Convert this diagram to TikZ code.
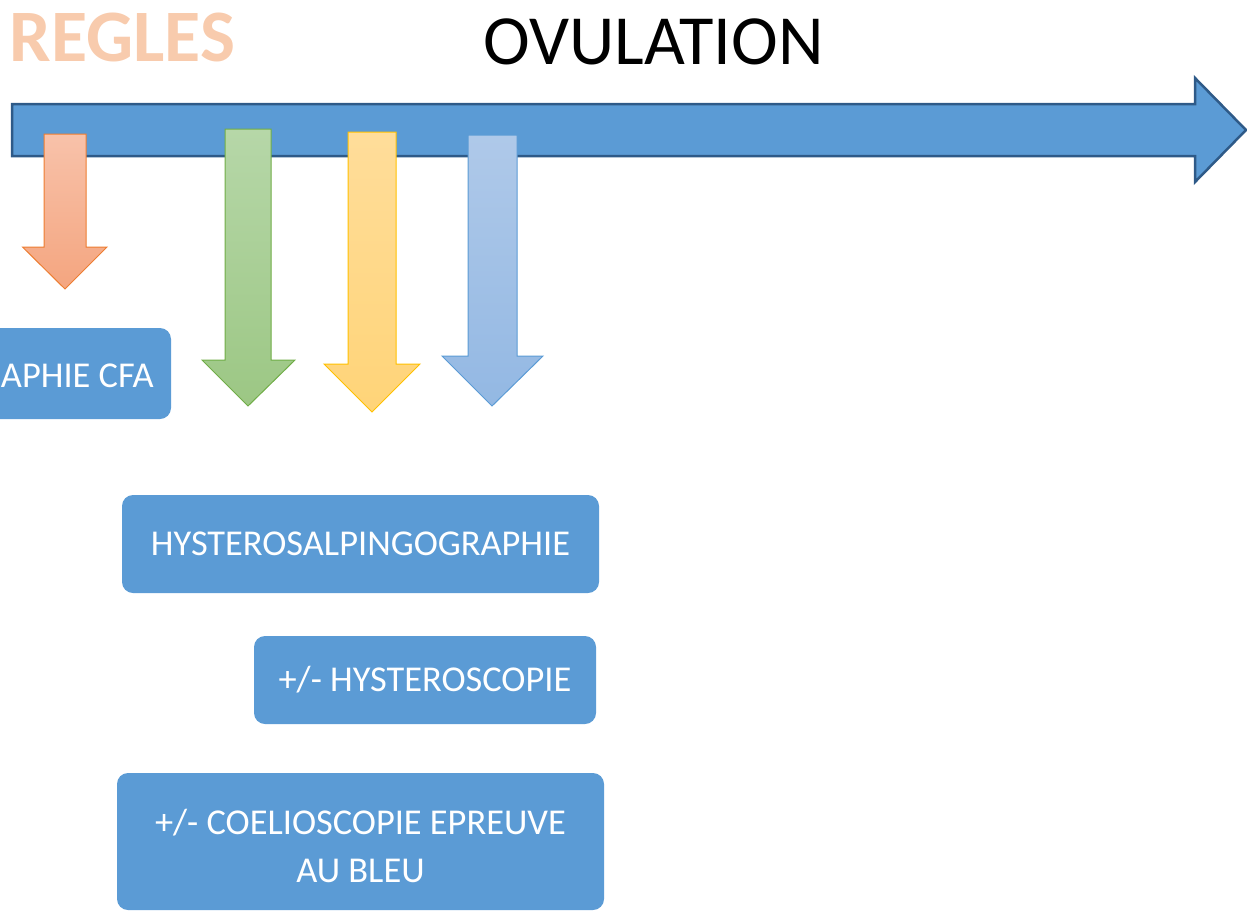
\documentclass[tikz,border=0pt]{standalone}
\usepackage{fontspec}
\setmainfont{Carlito}
\definecolor{barblue}{HTML}{5B9BD5}
\definecolor{bardark}{HTML}{2E5A88}
\definecolor{regles}{HTML}{F8CBAD}
\definecolor{orT}{HTML}{F8C2AA}
\definecolor{orB}{HTML}{F4A57F}
\definecolor{orL}{HTML}{ED7D31}
\definecolor{grT}{HTML}{B6D7A8}
\definecolor{grB}{HTML}{9CC784}
\definecolor{grL}{HTML}{70AD47}
\definecolor{yeT}{HTML}{FFDD9A}
\definecolor{yeB}{HTML}{FFD478}
\definecolor{yeL}{HTML}{FFC000}
\definecolor{blT}{HTML}{AFC9E9}
\definecolor{blB}{HTML}{93B8E3}
\definecolor{blL}{HTML}{5B9BD5}
\tikzset{
  infobox/.style={fill=barblue, draw=none, rounded corners=11pt, text=white, align=center,
    font=\fontsize{36.4}{50}\selectfont, inner sep=0pt},
  boxtext/.style={text=white, font=\fontsize{36.4}{50}\selectfont, inner sep=0pt},
  downarrow/.style={line width=1pt, line join=miter},
}
\begin{document}
\begin{tikzpicture}[x=1pt,y=-1pt]
\useasboundingbox (0,0) rectangle (1247,911);
% titles
\node[text=regles, font=\fontsize{74}{80}\bfseries\selectfont, inner sep=0pt] (regles) at (122.5,37.5) {REGLES};
\node[text=black, font=\fontsize{70.5}{80}\selectfont, inner sep=0pt] (ovulation) at (653.5,41.5) {OVULATION};
% timeline arrow
\draw[fill=barblue, draw=bardark, line width=2.5pt, line join=miter]
  (12,104) -- (1195,104) -- (1195,78) -- (1246,130) -- (1195,182) -- (1195,156) -- (12,156) -- cycle;
% down arrows
\draw[downarrow, draw=orL, top color=orT, bottom color=orB]
  (44,134) -- (86,134) -- (86,247) -- (107,247) -- (65,289) -- (22.5,247) -- (44,247) -- cycle;
\draw[downarrow, draw=grL, top color=grT, bottom color=grB]
  (225,129) -- (271,129) -- (271,360) -- (295,360) -- (248,406) -- (202,360) -- (225,360) -- cycle;
\draw[downarrow, draw=yeL, top color=yeT, bottom color=yeB]
  (348,132) -- (396,132) -- (396,364) -- (420,364) -- (372,412) -- (324,364) -- (348,364) -- cycle;
\draw[downarrow, draw=blL, top color=blT, bottom color=blB]
  (468,135) -- (517,135) -- (517,356) -- (543,356) -- (492,406) -- (442,356) -- (468,356) -- cycle;
% boxes
\fill[barblue, rounded corners=11pt] (-30,328) rectangle (171,419);
\node[boxtext, anchor=base east] (cfa) at (154,387) {APHIE CFA};
\node[infobox, minimum width=477pt, minimum height=98pt] (hsg) at (360.5,544) {HYSTEROSALPINGOGRAPHIE};
\node[infobox, minimum width=342pt, minimum height=88pt] (hsc) at (425,680) {+/- HYSTEROSCOPIE};
\node[infobox, minimum width=487pt, minimum height=137pt] (coel) at (360.5,841.5) {};
\node[boxtext, anchor=base] (coelt1) at (360.5,834) {+/- COELIOSCOPIE EPREUVE};
\node[boxtext, anchor=base] (coelt2) at (360.5,882) {AU BLEU};
\end{tikzpicture}
\end{document}
